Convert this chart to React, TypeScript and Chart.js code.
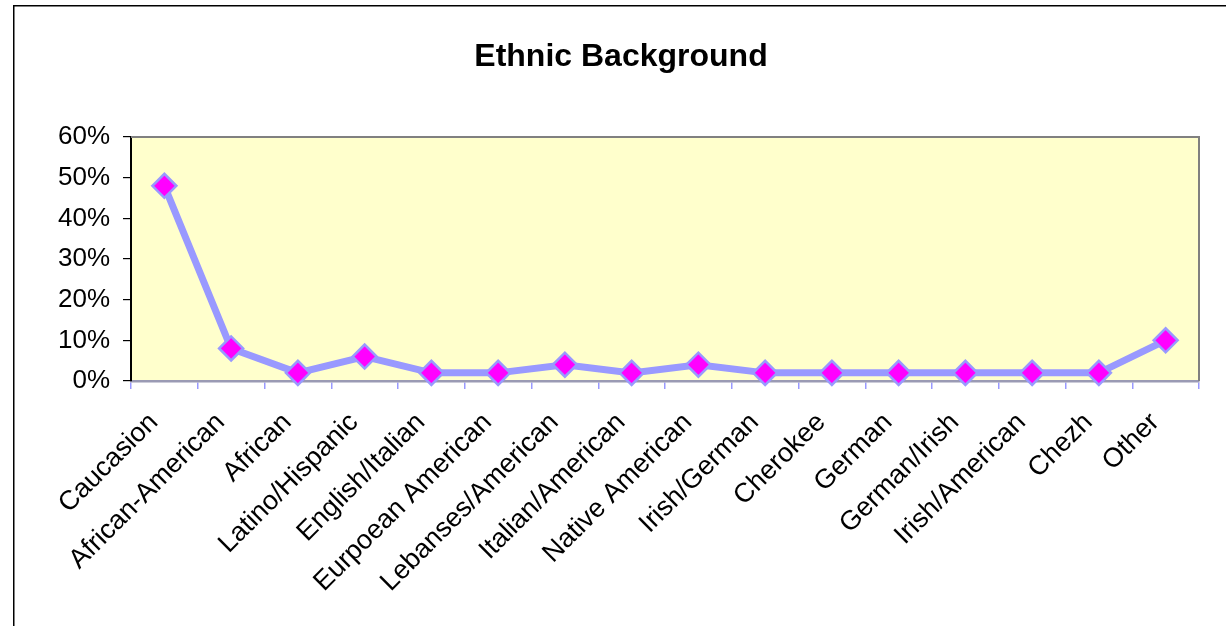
import React, { useEffect, useRef } from "react";
import { Chart, registerables } from "chart.js";

Chart.register(...registerables);

const categories = [
  "Caucasion",
  "African-American",
  "African",
  "Latino/Hispanic",
  "English/Italian",
  "Eurpoean American",
  "Lebanses/American",
  "Italian/American",
  "Native American",
  "Irish/German",
  "Cherokee",
  "German",
  "German/Irish",
  "Irish/American",
  "Chezh",
  "Other",
];

const percentValues = [48, 8, 2, 6, 2, 2, 4, 2, 4, 2, 2, 2, 2, 2, 2, 10];

const yTickMin = 0;
const yTickMax = 60;
const yTickStep = 10;

const chartTitle = "Ethnic Background";

const W = 1226;
const H = 626;
const FONT = "'Liberation Sans', Arial, sans-serif";

const framePlugin = {
  id: "frame",
  beforeDraw(chart: any) {
    const { ctx, chartArea } = chart;
    ctx.save();
    ctx.fillStyle = "#ffffff";
    ctx.fillRect(0, 0, chart.width, chart.height);
    // outer border
    ctx.strokeStyle = "#000000";
    ctx.lineWidth = 1.5;
    ctx.strokeRect(13.75, 5.75, chart.width + 20, chart.height + 20);
    // plot background
    ctx.fillStyle = "#FFFFCC";
    ctx.fillRect(
      chartArea.left,
      chartArea.top,
      chartArea.right - chartArea.left,
      chartArea.bottom - chartArea.top
    );
    ctx.restore();
  },
  beforeDatasetsDraw(chart: any) {
    const { ctx, chartArea } = chart;
    ctx.save();
    ctx.strokeStyle = "#808080";
    ctx.lineWidth = 2;
    ctx.beginPath();
    ctx.moveTo(chartArea.left, chartArea.top);
    ctx.lineTo(chartArea.right, chartArea.top);
    ctx.lineTo(chartArea.right, chartArea.bottom);
    ctx.stroke();
    ctx.restore();
  },
};

export default function App() {
  const ref = useRef<HTMLCanvasElement | null>(null);

  useEffect(() => {
    if (!ref.current) return;
    const chart = new Chart(ref.current, {
      type: "line",
      data: {
        labels: categories,
        datasets: [
          {
            data: percentValues,
            borderColor: "#9999FF",
            borderWidth: 7,
            tension: 0,
            pointStyle: "rectRot",
            pointRadius: 12,
            pointHoverRadius: 12,
            pointBackgroundColor: "#FF00FF",
            pointBorderColor: "#9999FF",
            pointBorderWidth: 2.5,
            clip: false as any,
          },
        ],
      },
      options: {
        responsive: false,
        animation: false,
        devicePixelRatio: 1,
        layout: { padding: { left: 43, right: 27, top: 0, bottom: 0 } },
        plugins: {
          legend: { display: false },
          tooltip: { enabled: false },
          title: {
            display: true,
            text: chartTitle,
            color: "#000000",
            font: { family: FONT, size: 32, weight: "bold", lineHeight: 1.2 },
            padding: { top: 38, bottom: 60.6 },
          },
        },
        scales: {
          x: {
            type: "category",
            offset: true,
            afterFit(scale: any) {
              scale.height = 245;
            },
            grid: {
              display: true,
              drawOnChartArea: false,
              drawTicks: true,
              tickLength: 8,
              color: "#9999FF",
              lineWidth: 1.5,
              offset: true,
            },
            border: { display: true, color: "#9a9ab4", width: 2.5 },
            ticks: {
              color: "#000000",
              font: { family: FONT, size: 27, lineHeight: 1.2 },
              minRotation: 45,
              maxRotation: 45,
              autoSkip: false,
              padding: 7,
              callback: (_v: any, i: number) => categories[i] + "  ",
            },
          },
          y: {
            min: yTickMin,
            max: yTickMax,
            afterFit(scale: any) {
              scale.width = 88;
            },
            grid: {
              display: true,
              drawOnChartArea: false,
              drawTicks: true,
              tickLength: 8,
              color: "#000000",
              lineWidth: 1.2,
            },
            border: { display: true, color: "#000000", width: 2 },
            ticks: {
              stepSize: yTickStep,
              color: "#000000",
              font: { family: FONT, size: 26 },
              padding: 13,
              callback: (v: any) => `${v}%`,
            },
          },
        },
      },
      plugins: [framePlugin],
    });
    return () => chart.destroy();
  }, []);

  return (
    <div style={{ position: "fixed", left: 0, top: 0, width: W, height: H, background: "#fff" }}>
      <canvas ref={ref} width={W} height={H} style={{ display: "block", width: W, height: H }} />
    </div>
  );
}
